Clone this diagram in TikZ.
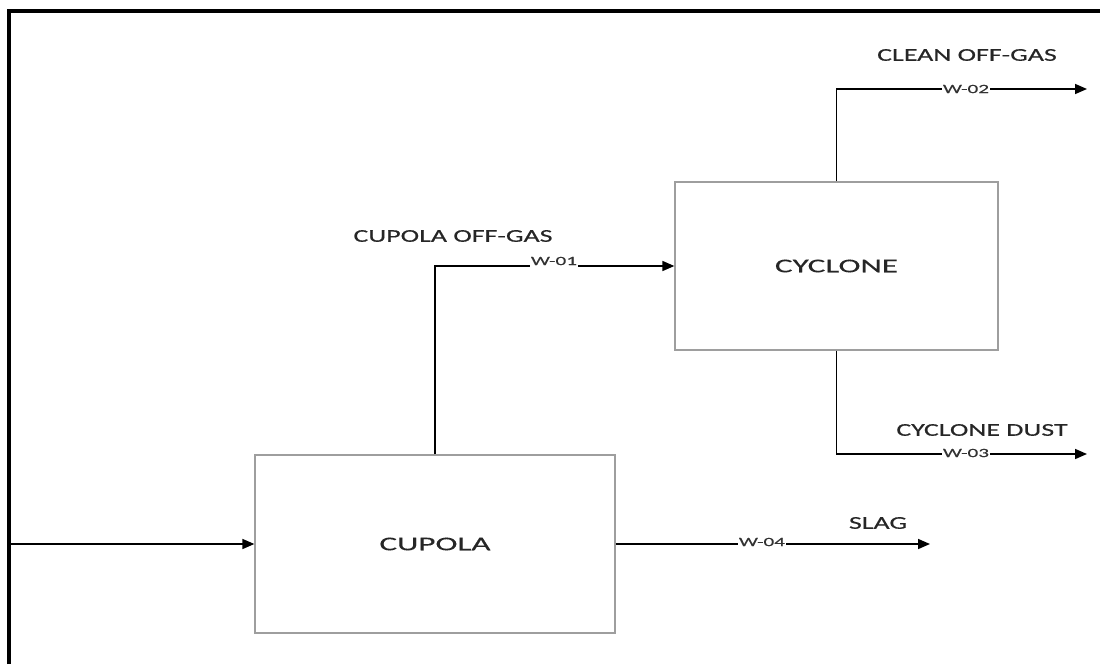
\documentclass[tikz,border=0pt]{standalone}
\usepackage{fontspec}
\setmainfont{Carlito}
\newfontfamily\widefont[FakeStretch=1.7,FakeBold=0.3]{Carlito}
\newfontfamily\titlefont[FakeStretch=1.55,FakeBold=0.3]{Carlito}
\usetikzlibrary{arrows.meta}
\tikzset{
  unit/.style={draw=black!38, line width=1.3pt, fill=white, inner sep=0pt,
    font=\widefont\fontsize{19.5}{22}\selectfont, text=black!85},
  flow/.style={line width=1.6pt, -{Triangle[length=12pt,width=10pt]}},
  tag/.style={fill=white, inner xsep=1pt, inner ysep=1pt, font=\widefont\fontsize{12.5}{14}\selectfont, text=black!80},
  title/.style={inner sep=0pt, font=\titlefont\fontsize{18}{21}\selectfont, text=black!85},
}
\begin{document}
\begin{tikzpicture}[x=1pt,y=-1pt]
\useasboundingbox (0,0) rectangle (1100,664);
\fill[white] (0,0) rectangle (1100,664);
\draw[line width=4pt] (9,664) -- (9,11) -- (1100,11);

\node[unit, minimum width=360pt, minimum height=178pt] (cupola) at (435,544) {CUPOLA};
\node[unit, minimum width=323pt, minimum height=168pt] (cyclone) at (836.5,266) {CYCLONE};

\coordinate (in) at (9,544);
\coordinate (o2) at (1087,89);
\coordinate (o3) at (1087,454);
\coordinate (o4) at (930,544);

\draw[flow] (in) -- (cupola.west);
\draw[flow] (cupola.north) |- (cyclone.west);
\draw[flow] (cyclone.north) |- (o2);
\draw[flow] (cyclone.south) |- (o3);
\draw[flow] (cupola.east) -- (o4);

\node[tag, inner ysep=4pt] (t1) at (554,261) {W-01};
\node[tag] (t2) at (966,89) {W-02};
\node[tag] (t3) at (966,453) {W-03};
\node[tag, inner ysep=3pt] (t4) at (762,542) {W-04};

\node[title] (n1) at (453,236) {CUPOLA OFF-GAS};
\node[title] (n2) at (967,55) {CLEAN OFF-GAS};
\node[title] (n3) at (982,430) {CYCLONE DUST};
\node[title] (n4) at (878,523) {SLAG};
\end{tikzpicture}
\end{document}
